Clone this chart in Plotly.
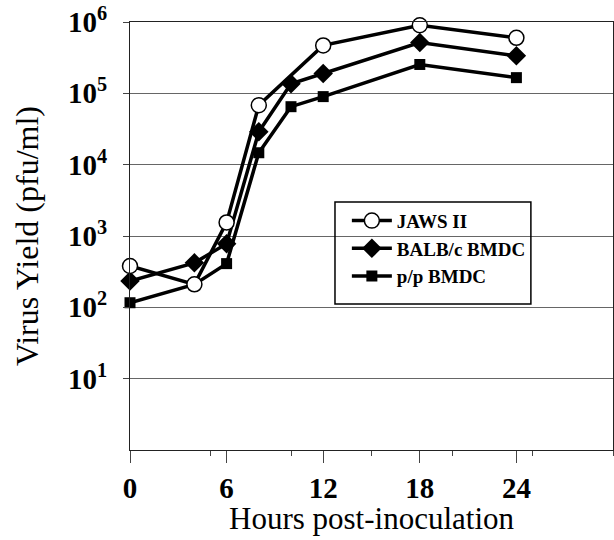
import plotly.graph_objects as go

# Data (hours post-inoculation, virus yield pfu/ml)
jaws_hours = [0, 4, 6, 8, 12, 18, 24]
jaws_yield = [380, 210, 1550, 68000, 470000, 900000, 600000]

balb_hours = [0, 4, 6, 8, 10, 12, 18, 24]
balb_yield = [234, 420, 780, 29000, 136000, 190000, 515000, 336000]

pp_hours = [0, 4, 6, 8, 10, 12, 18, 24]
pp_yield = [116, 210, 410, 14700, 65000, 90000, 254000, 166000]

x_ticks = [0, 6, 12, 18, 24]
y_tickvals = [10, 100, 1000, 10000, 100000, 1000000]
y_ticktext = ["10<sup>1</sup>", "10<sup>2</sup>", "10<sup>3</sup>",
              "10<sup>4</sup>", "10<sup>5</sup>", "10<sup>6</sup>"]

serif = "Liberation Serif"

fig = go.Figure()

fig.add_trace(go.Scatter(
    x=pp_hours, y=pp_yield, mode="lines+markers", name="p/p BMDC",
    line=dict(color="black", width=3.5),
    marker=dict(symbol="square", size=11, color="black"),
    cliponaxis=False, legendrank=3))
fig.add_trace(go.Scatter(
    x=balb_hours, y=balb_yield, mode="lines+markers", name="BALB/c BMDC",
    line=dict(color="black", width=3.5),
    marker=dict(symbol="diamond", size=15, color="black"),
    cliponaxis=False, legendrank=2))
fig.add_trace(go.Scatter(
    x=jaws_hours, y=jaws_yield, mode="lines+markers", name="JAWS II",
    line=dict(color="black", width=3.5),
    marker=dict(symbol="circle", size=15, color="white",
                line=dict(color="black", width=1.5)),
    cliponaxis=False, legendrank=1))

fig.update_layout(
    width=614, height=540, autosize=False,
    margin=dict(l=130, r=1, t=22, b=90),
    paper_bgcolor="white", plot_bgcolor="white",
    font=dict(family=serif, color="black"),
    showlegend=True,
    legend=dict(x=0.449, y=0.58, xanchor="left", yanchor="top",
                bgcolor="rgba(0,0,0,0)", borderwidth=0,
                font=dict(family=serif, size=19, weight="bold"),
                tracegroupgap=0, itemwidth=40),
    shapes=[dict(type="rect", xref="paper", yref="paper",
                 x0=0.4244, x1=0.830, y0=0.3411, y1=0.5794,
                 line=dict(color="black", width=1.5))],
    annotations=[
        dict(text="Hours post-inoculation", xref="paper", yref="paper",
             x=0.5, y=-0.161, xanchor="center", yanchor="middle",
             showarrow=False, font=dict(family=serif, size=31)),
        dict(text="Virus Yield (pfu/ml)", xref="paper", yref="paper",
             x=-0.2133, y=0.5, xanchor="center", yanchor="middle",
             textangle=-90, showarrow=False,
             font=dict(family=serif, size=32)),
    ],
)

fig.update_xaxes(
    range=[0, 30], tickvals=x_ticks, ticks="outside", ticklen=12,
    tickcolor="#444", showgrid=False, zeroline=False, automargin=False,
    minor=dict(dtick=5, tick0=0, ticks="outside", ticklen=5,
               tickcolor="#444", showgrid=False),
    showline=True, linecolor="#222", linewidth=1, mirror=True,
    tickfont=dict(family=serif, size=29, weight="bold"))

fig.update_yaxes(
    type="log", range=[-0.0002, 6.0002], tickvals=y_tickvals,
    ticktext=y_ticktext, ticks="outside", ticklen=6, tickcolor="#444",
    ticklabelstandoff=10, automargin=False,
    showgrid=True, gridcolor="#666", gridwidth=1, zeroline=False,
    showline=True, linecolor="#222", linewidth=1, mirror=True,
    tickfont=dict(family=serif, size=29, weight="bold"))

# Remove the default 8px page margin so the figure fills the window exactly.
fig.write_html("out.html",
               config={"displayModeBar": False},
               post_script="document.body.style.margin='0px';")
